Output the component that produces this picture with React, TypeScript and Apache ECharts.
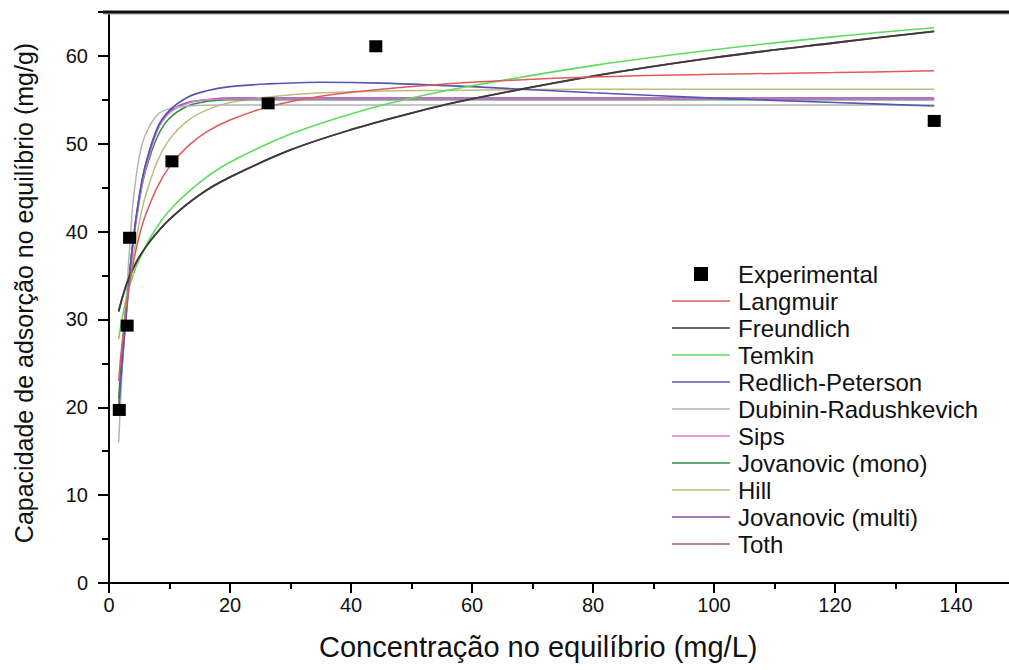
import React, { useEffect, useRef } from "react";
import * as echarts from "echarts";

// Experimental equilibrium points [Ce (mg/L), qe (mg/g)]
const experimental: number[][] = [
  [1.7, 19.7], [3.0, 29.3], [3.4, 39.3], [10.4, 48.0], [26.3, 54.6], [44.1, 61.1], [136.4, 52.6],
];

// Fitted isotherm curves [Ce, qe]
const langmuir: number[][] = [
  [1.6, 23.0], [2, 26.2], [3, 32.3], [4, 36.4], [5, 39.5], [6, 41.8], [8, 45.1], [10, 47.4], [13, 49.7],
  [16, 51.3], [20, 52.7], [26.3, 54.2], [35, 55.4], [45, 56.2], [60, 57.0], [80, 57.6], [100, 57.9],
  [120, 58.1], [136.4, 58.3],
];
const freundlich: number[][] = [
  [1.6, 30.9], [2, 32.0], [3, 34.2], [4, 35.8], [5, 37.1], [7, 39.1], [10, 41.4], [15, 44.2], [20, 46.2],
  [30, 49.3], [40, 51.6], [50, 53.5], [60, 55.1], [80, 57.7], [100, 59.8], [120, 61.5], [136.4, 62.8],
];
const temkin: number[][] = [
  [1.6, 27.8], [2, 29.5], [3, 32.8], [4, 35.1], [5, 36.8], [7, 39.5], [10, 42.4], [15, 45.6], [20, 47.9],
  [30, 51.1], [40, 53.4], [50, 55.2], [60, 56.6], [80, 58.9], [100, 60.7], [120, 62.2], [136.4, 63.2],
];
const redlichPeterson: number[][] = [
  [1.6, 19.5], [2, 23.5], [3, 32], [4, 39], [5, 44], [6, 47.5], [8, 51.8], [10, 53.8], [13, 55.3],
  [16, 56.0], [20, 56.5], [26, 56.8], [35, 57.0], [45, 56.9], [60, 56.5], [80, 55.8], [100, 55.2],
  [120, 54.7], [136.4, 54.3],
];
const dubininRadushkevich: number[][] = [
  [1.6, 16], [2, 22], [2.5, 28.5], [3, 34], [3.5, 39], [4, 43.5], [5, 48.5], [6, 51], [8, 53.3],
  [10, 54.0], [13, 54.3], [20, 54.4], [40, 54.4], [80, 54.4], [136.4, 54.4],
];
const sips: number[][] = [
  [1.6, 19], [2, 23], [3, 31.5], [4, 38.5], [5, 43.5], [6, 47], [8, 51.5], [10, 53.5], [13, 54.6],
  [16, 55.0], [20, 55.1], [40, 55.1], [80, 55.1], [136.4, 55.1],
];
const jovanovicMono: number[][] = [
  [1.6, 21], [2, 25], [3, 33], [4, 39], [5, 43.5], [6, 46.8], [8, 50.8], [10, 52.9], [13, 54.3],
  [16, 54.8], [20, 55.0], [40, 55.0], [80, 55.0], [136.4, 55.0],
];
const hill: number[][] = [
  [1.6, 20.5], [2, 24], [3, 31.5], [4, 37], [5, 41], [6, 44], [8, 48], [10, 50.5], [13, 52.6],
  [16, 53.8], [20, 54.7], [26, 55.3], [35, 55.8], [45, 56.0], [60, 56.1], [80, 56.2], [136.4, 56.2],
];
const jovanovicMulti: number[][] = [
  [1.6, 19.5], [2, 23.5], [3, 32], [4, 39], [5, 44], [6, 47.5], [8, 51.8], [10, 53.7], [13, 54.7],
  [16, 55.0], [20, 55.2], [40, 55.2], [80, 55.2], [136.4, 55.2],
];
const toth: number[][] = [
  [1.6, 30.9], [2, 32.0], [3, 34.2], [4, 35.8], [5, 37.1], [7, 39.1], [10, 41.4], [15, 44.2], [20, 46.2],
  [30, 49.3], [40, 51.6], [50, 53.5], [60, 55.1], [80, 57.7], [100, 59.8], [120, 61.5], [136.4, 62.8],
];

const xTitle = "Concentração no equilíbrio (mg/L)";
const yTitle = "Capacidade de adsorção no equilíbrio (mg/g)";

const curves: { name: string; data: number[][]; color: string; width: number }[] = [
  { name: "Langmuir", data: langmuir, color: "#e05a5a", width: 1.5 },
  { name: "Freundlich", data: freundlich, color: "#3a3a3a", width: 1.8 },
  { name: "Temkin", data: temkin, color: "#5edc5e", width: 1.6 },
  { name: "Redlich-Peterson", data: redlichPeterson, color: "#5656b0", width: 1.6 },
  { name: "Dubinin-Radushkevich", data: dubininRadushkevich, color: "#b4b4b4", width: 1.5 },
  { name: "Sips", data: sips, color: "#d77ad7", width: 1.5 },
  { name: "Jovanovic (mono)", data: jovanovicMono, color: "#2f8f3f", width: 1.5 },
  { name: "Hill", data: hill, color: "#bdbd80", width: 1.5 },
  { name: "Jovanovic (multi)", data: jovanovicMulti, color: "#8c4c9c", width: 1.6 },
  { name: "Toth", data: toth, color: "#b05a5a", width: 1.8 },
];

const FONT = "'Liberation Sans', Arial, sans-serif";
const LINE_ICON = "path://M0,0H40V1H0Z";
const SQUARE_ICON = "path://M0,0H10V10H0Z";

export default function App() {
  const ref = useRef<HTMLDivElement>(null);

  useEffect(() => {
    if (!ref.current) return;
    const chart = echarts.init(ref.current, undefined, { renderer: "svg" });

    const lineSeries = curves
      .slice()
      .reverse()
      .map((c) => ({
        name: c.name,
        type: "line",
        data: c.data,
        smooth: 0.35,
        symbol: "none",
        showSymbol: false,
        lineStyle: { color: c.color, width: c.width },
        itemStyle: { color: c.color },
        z: 2,
      }));

    chart.setOption({
      animation: false,
      backgroundColor: "#ffffff",
      textStyle: { fontFamily: FONT },
      grid: { left: 109, top: 12, width: 907.5, height: 571, containLabel: false },
      xAxis: {
        type: "value",
        min: 0,
        max: 150,
        interval: 20,
        position: "bottom",
        axisLine: { show: true, onZero: false, lineStyle: { color: "#000", width: 2 } },
        axisTick: { show: true, inside: false, length: 10, lineStyle: { color: "#000", width: 2 } },
        minorTick: { show: true, splitNumber: 2, length: 6, lineStyle: { color: "#000", width: 2 } },
        splitLine: { show: false },
        axisLabel: {
          fontSize: 20,
          color: "#111",
          margin: 12,
          fontFamily: FONT,
          formatter: (v: number) => (v % 20 === 0 ? String(v) : ""),
        },
      },
      yAxis: {
        type: "value",
        min: 0,
        max: 65,
        interval: 10,
        axisLine: { show: true, onZero: false, lineStyle: { color: "#000", width: 2 } },
        axisTick: { show: true, inside: false, length: 11, lineStyle: { color: "#000", width: 2 } },
        minorTick: { show: true, splitNumber: 2, length: 7, lineStyle: { color: "#000", width: 2 } },
        splitLine: { show: false },
        axisLabel: {
          fontSize: 20,
          color: "#111",
          margin: 21,
          fontFamily: FONT,
          formatter: (v: number) => (v % 10 === 0 ? String(v) : ""),
        },
      },
      legend: {
        orient: "vertical",
        left: 667,
        top: 257,
        itemWidth: 58,
        itemHeight: 14,
        itemGap: 3,
        textStyle: { fontSize: 24, lineHeight: 24, color: "#111", fontFamily: FONT, padding: [0, 0, 0, 3] },
        data: [
          { name: "Experimental", icon: SQUARE_ICON },
          ...curves.map((c) => ({ name: c.name, icon: LINE_ICON })),
        ],
      },
      graphic: [
        {
          type: "rect",
          shape: { x: 103, y: 12.5, width: 940, height: 2 },
          style: { fill: "#b0b0b0" },
          z: 9,
        },
        {
          type: "rect",
          shape: { x: 103, y: 10.5, width: 940, height: 3 },
          style: { fill: "#111111" },
          z: 10,
        },
        {
          type: "text",
          left: 565 - 246,
          top: 632,
          style: { text: xTitle, fontSize: 29, fill: "#111", fontFamily: FONT },
        },
        {
          type: "text",
          x: 24,
          y: 293,
          rotation: Math.PI / 2,
          style: {
            text: yTitle,
            fontSize: 25,
            fill: "#111",
            fontFamily: FONT,
            align: "center",
            verticalAlign: "middle",
          },
        },
      ],
      series: [
        ...lineSeries,
        {
          name: "Experimental",
          type: "scatter",
          data: experimental,
          symbol: "rect",
          symbolSize: [13, 12],
          itemStyle: { color: "#000", opacity: 1 },
          z: 5,
        },
      ],
    });

    return () => chart.dispose();
  }, []);

  return (
    <div
      style={{
        position: "fixed",
        left: 0,
        top: 0,
        width: 1009,
        height: 670,
        overflow: "hidden",
        background: "#fff",
      }}
    >
      <div ref={ref} style={{ width: 1040, height: 670 }} />
    </div>
  );
}
